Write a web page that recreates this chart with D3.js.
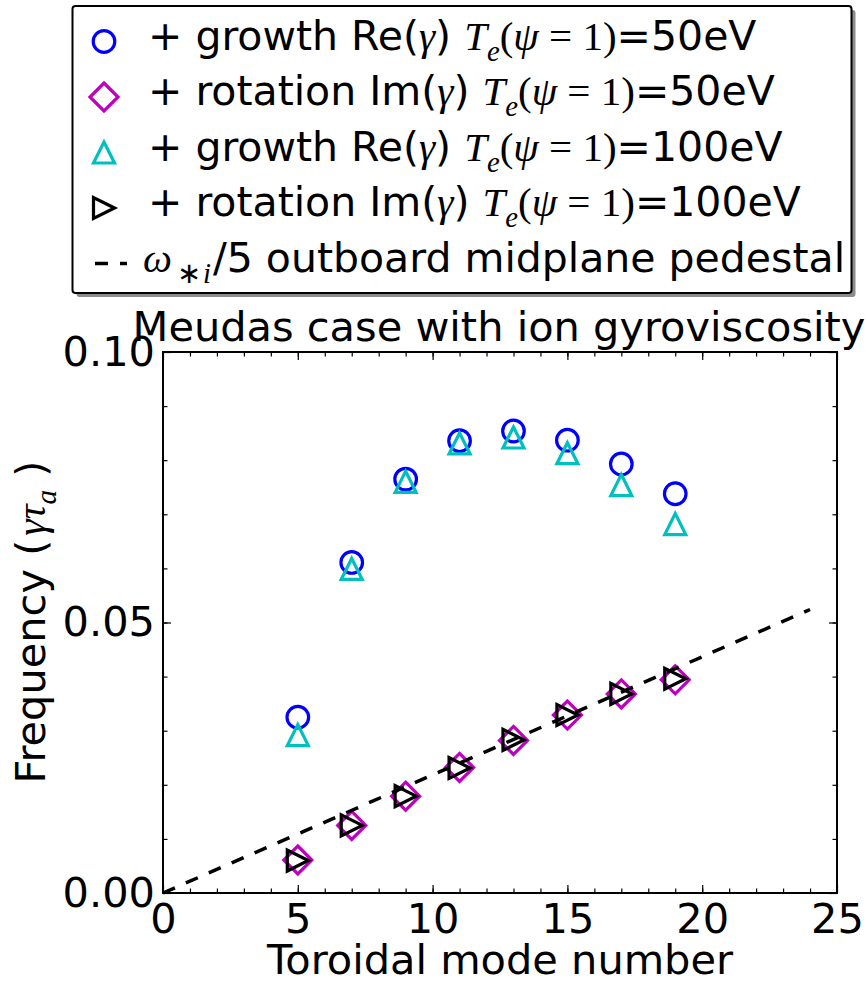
<!DOCTYPE html>
<html>
<head>
<meta charset="utf-8">
<script src="https://cdn.jsdelivr.net/npm/d3@7"></script>
<style>
  body { margin: 0; background: #fff; }
  text { font-family: "DejaVu Sans", sans-serif; fill: #000; }
</style>
</head>
<body>
<svg id="drawing_region"></svg>
<script>
// toroidal mode numbers and the four measured series
const modes = [5, 7, 9, 11, 13, 15, 17, 19];
const growth50 = [0.0325, 0.0611, 0.0765, 0.0836, 0.0854, 0.0837, 0.0793, 0.0738];
const rotation50 = [0.0061, 0.0125, 0.0179, 0.0232, 0.0282, 0.0329, 0.0368, 0.0394];
const growth100 = [0.0292, 0.0599, 0.0760, 0.0831, 0.0842, 0.0813, 0.0754, 0.0682];
const rotation100 = [0.0060, 0.0125, 0.0179, 0.0231, 0.0283, 0.0329, 0.0368, 0.0396];
// omega_*i / 5 reference line (end points)
const omegaN = [0, 24];
const omegaVal = [0, 0.0524];

const xTicks = [0, 5, 10, 15, 20, 25];
const yTicks = [0.00, 0.05, 0.10];

const config = {
    width: 867,
    height: 981,
    fontSize: 41.5,
    legendFont: 41
};

const svg = d3.select('#drawing_region')
    .attr('width', config.width)
    .attr('height', config.height);

const x = d3.scaleLinear().domain([0, 25]).range([163, 837]);
const y = d3.scaleLinear().domain([0, 0.1]).range([893, 352]);

// marker shapes (size = half width)
const circleSym = { draw(ctx, s) { ctx.moveTo(s, 0); ctx.arc(0, 0, s, 0, 2 * Math.PI); } };
const diamondSym = { draw(ctx, s) { ctx.moveTo(0, -s); ctx.lineTo(s, 0); ctx.lineTo(0, s); ctx.lineTo(-s, 0); ctx.closePath(); } };
const triUpSym = { draw(ctx, s) { ctx.moveTo(0, -s); ctx.lineTo(s, s); ctx.lineTo(-s, s); ctx.closePath(); } };
const triRightSym = { draw(ctx, s) { ctx.moveTo(s, 0); ctx.lineTo(-s, -s); ctx.lineTo(-s, s); ctx.closePath(); } };

const series = [
    {values: growth50, sym: circleSym, size: 10.8, color: '#0000ff'},
    {values: rotation50, sym: diamondSym, size: 14, color: '#bf00bf'},
    {values: growth100, sym: triUpSym, size: 10.5, color: '#00bfbf'},
    {values: rotation100, sym: triRightSym, size: 10.5, color: '#000000'}
];

// rich text helper: parts = [{t, m (math italic), r (math roman), sub, dx}]
function rich(sel, parts, fs) {
    let shift = 0;
    parts.forEach(p => {
        const ts = sel.append('tspan').text(p.t);
        const target = p.sub ? fs * 0.27 : 0;
        if (target !== shift) { ts.attr('dy', target - shift); shift = target; }
        if (p.dx) ts.attr('dx', p.dx);
        if (p.m || p.r) {
            ts.style('font-family', '"Liberation Serif", serif')
              .style('font-style', p.m ? 'italic' : 'normal');
        }
        ts.style('font-size', (p.sub ? fs * 0.7 : fs) + 'px');
    });
}

// ---- axes ----
svg.append('g').attr('transform', 'translate(0,893)')
    .call(d3.axisBottom(x).tickValues(xTicks).tickSize(-8).tickPadding(11).tickFormat(d3.format('d')));
svg.append('g').attr('transform', 'translate(0,893)')
    .call(d3.axisBottom(x).tickValues(d3.range(1, 25)).tickSize(-4.5).tickFormat(''));
svg.append('g').attr('transform', 'translate(0,352)')
    .call(d3.axisTop(x).tickValues(xTicks).tickSize(-8).tickFormat(''));
svg.append('g').attr('transform', 'translate(0,352)')
    .call(d3.axisTop(x).tickValues(d3.range(1, 25)).tickSize(-4.5).tickFormat(''));

svg.append('g').attr('transform', 'translate(163,0)')
    .call(d3.axisLeft(y).tickValues(yTicks).tickSize(-8).tickPadding(8).tickFormat(d3.format('.2f')));
svg.append('g').attr('transform', 'translate(163,0)')
    .call(d3.axisLeft(y).tickValues(d3.range(1, 10).map(d => d / 100)).tickSize(-4.5).tickFormat(''));
svg.append('g').attr('transform', 'translate(837,0)')
    .call(d3.axisRight(y).tickValues(yTicks).tickSize(-8).tickFormat(''));
svg.append('g').attr('transform', 'translate(837,0)')
    .call(d3.axisRight(y).tickValues(d3.range(1, 10).map(d => d / 100)).tickSize(-4.5).tickFormat(''));

svg.selectAll('.domain').remove();
svg.selectAll('.tick line').attr('stroke', '#000').attr('stroke-width', 1.2);
svg.selectAll('.tick text')
    .style('font-family', '"DejaVu Sans", sans-serif')
    .style('font-size', config.fontSize + 'px')
    .attr('fill', '#000');

svg.append('rect')
    .attr('x', 163).attr('y', 352)
    .attr('width', 837 - 163).attr('height', 893 - 352)
    .attr('fill', 'none').attr('stroke', '#000').attr('stroke-width', 2);

// ---- data markers ----
series.forEach(s => {
    svg.append('g').selectAll('path')
        .data(modes.map((n, i) => [n, s.values[i]]))
        .join('path')
        .attr('d', d3.symbol().type(s.sym).size(s.size))
        .attr('transform', d => `translate(${x(d[0])},${y(d[1])})`)
        .attr('fill', 'none')
        .attr('stroke', s.color)
        .attr('stroke-width', 3.2)
        .attr('stroke-linejoin', 'miter');
});

const line = d3.line().x(d => x(d[0])).y(d => y(d[1]));
svg.append('path')
    .datum(omegaN.map((n, i) => [n, omegaVal[i]]))
    .attr('d', line)
    .attr('fill', 'none')
    .attr('stroke', '#000')
    .attr('stroke-width', 3.5)
    .attr('stroke-dasharray', '13,12');

// ---- titles ----
svg.append('text')
    .attr('x', 499).attr('y', 340.5)
    .attr('text-anchor', 'middle')
    .style('font-size', config.fontSize + 'px')
    .text('Meudas case with ion gyroviscosity');

svg.append('text')
    .attr('x', 500).attr('y', 974)
    .attr('text-anchor', 'middle')
    .style('font-size', config.fontSize + 'px')
    .text('Toroidal mode number');

const ylab = svg.append('text')
    .attr('transform', 'translate(45,622) rotate(-90)')
    .attr('text-anchor', 'middle')
    .style('font-size', config.fontSize + 'px');
rich(ylab, [{t: 'Frequency ('}, {t: 'γτ', m: true, dx: 4}, {t: 'a', m: true, sub: true}, {t: ' )'}], config.fontSize);

// ---- legend ----
const te = [{t: ' '}, {t: 'T', m: true}, {t: 'e', m: true, sub: true}, {t: '(', r: true}, {t: 'ψ', m: true}, {t: ' = 1)', r: true}];
const legendLabels = [
    [{t: '+ growth Re('}, {t: 'γ', m: true}, {t: ')'}, ...te, {t: '=50eV'}],
    [{t: '+ rotation Im('}, {t: 'γ', m: true}, {t: ')'}, ...te, {t: '=50eV'}],
    [{t: '+ growth Re('}, {t: 'γ', m: true}, {t: ')'}, ...te, {t: '=100eV'}],
    [{t: '+ rotation Im('}, {t: 'γ', m: true}, {t: ')'}, ...te, {t: '=100eV'}],
    [{t: 'ω', m: true}, {t: '∗', r: true, sub: true, dx: 5}, {t: 'i', m: true, sub: true, dx: 2}, {t: '/5 outboard midplane pedestal', dx: 2}]
];

const legend = svg.append('g');
legend.append('rect')
    .attr('x', 76.5).attr('y', 10).attr('width', 779).attr('height', 287).attr('rx', 3)
    .attr('fill', '#8c8c8c');
legend.append('rect')
    .attr('x', 72.5).attr('y', 6).attr('width', 779).attr('height', 287).attr('rx', 3)
    .attr('fill', '#fff').attr('stroke', '#000').attr('stroke-width', 2);

const rowY = d3.scaleLinear().domain([0, 4]).range([49.5, 271.5]);
series.forEach((s, i) => {
    legend.append('path')
        .attr('d', d3.symbol().type(s.sym).size(s.size))
        .attr('transform', `translate(104,${rowY(i) - 8})`)
        .attr('fill', 'none').attr('stroke', s.color).attr('stroke-width', 3.2);
});
legend.append('line')
    .attr('x1', 95).attr('x2', 127)
    .attr('y1', rowY(4) - 8).attr('y2', rowY(4) - 8)
    .attr('stroke', '#000').attr('stroke-width', 3.5).attr('stroke-dasharray', '13,12');

legendLabels.forEach((parts, i) => {
    const t = legend.append('text')
        .attr('x', i === 4 ? 143 : 148).attr('y', rowY(i))
        .style('font-size', config.legendFont + 'px');
    rich(t, parts, config.legendFont);
});
</script>
</body>
</html>
